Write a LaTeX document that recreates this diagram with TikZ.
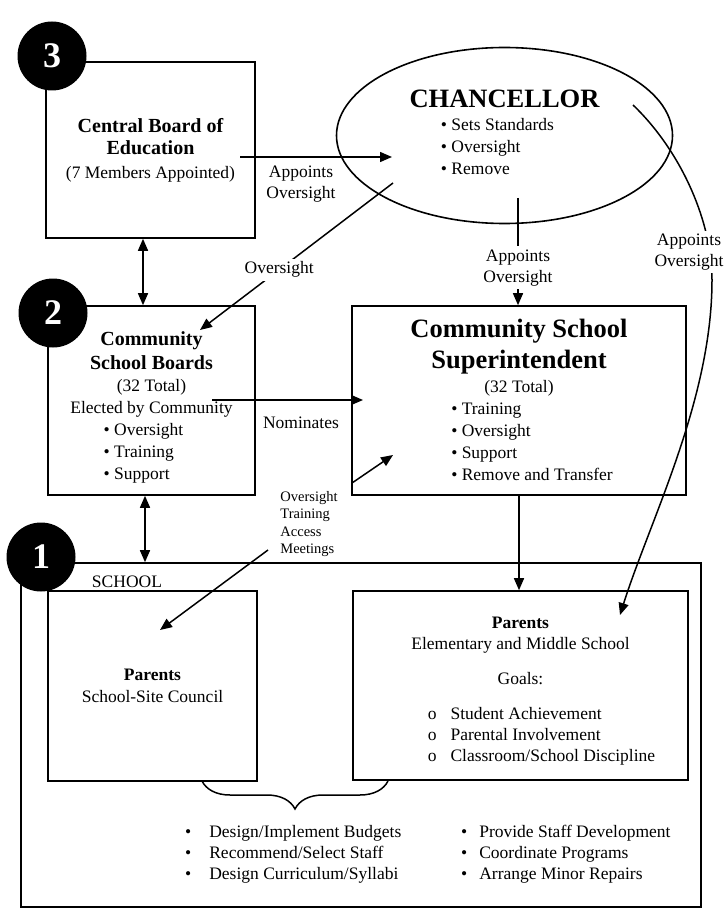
\documentclass[tikz,border=0pt]{standalone}
\usepackage{fontspec}
\setmainfont{Liberation Serif}
\usetikzlibrary{arrows.meta, positioning, calc, shapes.geometric, decorations.pathreplacing}
\newcommand{\txtsize}{\fontsize{17.5}{22}\selectfont}
\newcommand{\lblsize}{\fontsize{14.5}{17.5}\selectfont}
\newcommand{\headsize}{\fontsize{20}{22}\selectfont}
\newcommand{\bigsize}{\fontsize{26.5}{31}\selectfont}

\begin{document}
\begin{tikzpicture}[x=1pt, y=-1pt,
    box/.style={draw, line width=1.6pt, inner sep=0pt, align=center, font=\txtsize},
    numdot/.style={circle, fill=black, minimum size=69pt, inner sep=0pt, text=white,
                   font=\fontsize{36}{36}\selectfont\bfseries},
    arrow/.style={-{Triangle[length=12pt, width=10pt]}, line width=1.5pt},
    dblarrow/.style={{Triangle[length=12pt, width=10pt]}-{Triangle[length=12pt, width=10pt]}, line width=1.5pt},
    lbl/.style={font=\txtsize, align=center, fill=white, inner sep=3pt},
    bracket/.style={decorate, decoration={brace, mirror, amplitude=28pt}, line width=1.5pt},
]
\useasboundingbox (0,0) rectangle (726,917);

% Level 3: central board and chancellor
\node[box, minimum width=209pt, minimum height=176pt] (cbe) at (150.5,150)
    {{\headsize\bfseries Central Board of}\\{\headsize\bfseries Education}\\[2pt](7 Members Appointed)};
\node[draw, ellipse, line width=1.6pt, minimum width=336pt, minimum height=176pt,
      inner sep=0pt, align=center, font=\txtsize] (chan) at (504.5,135.5)
    {{\bigsize\bfseries CHANCELLOR}\\[1pt]\hspace*{-14pt}\begin{tabular}[t]{@{}l@{}}• Sets Standards\\• Oversight\\• Remove\end{tabular}};

% Level 2: boards and superintendent
\node[box, minimum width=207pt, minimum height=189pt] (csb) at (151.5,400.5)
    {\rule{0pt}{30pt}{\headsize\bfseries Community}\\[2pt]{\headsize\bfseries School Boards}\\(32 Total)\\Elected by Community\\\hspace*{-16pt}\begin{tabular}[t]{@{}l@{}}• Oversight\\• Training\\• Support\end{tabular}};
\node[box, minimum width=334pt, minimum height=189pt] (css) at (519,400.5)
    {\rule{0pt}{24pt}{\bigsize\bfseries Community School}\\[6pt]{\bigsize\bfseries Superintendent}\\[2pt](32 Total)\\\hspace*{26pt}\begin{tabular}[t]{@{}l@{}}• Training\\• Oversight\\• Support\\• Remove and Transfer\end{tabular}};

% Level 1: the school
\node[box, minimum width=680pt, minimum height=344pt] (school) at (361,735) {};
\node[font=\txtsize] (schoollbl) at (127,582) {SCHOOL};
\node[box, minimum width=209pt, minimum height=190pt] (ssc) at (152.5,686)
    {\textbf{Parents}\\School-Site Council};
\node[box, minimum width=335pt, minimum height=189pt] (ems) at (520.5,685.5)
    {\rule{0pt}{26pt}\textbf{Parents}\\[-1pt]Elementary and Middle School\\[13pt]Goals:\\[13pt]\hspace*{42pt}\begin{tabular}[t]{@{}l@{\hspace{14pt}}l@{}}o&Student Achievement\\[-1pt]o&Parental Involvement\\[-1pt]o&Classroom/School Discipline\end{tabular}};

% Shared duties under the brace
\node[font=\txtsize, inner sep=0pt, anchor=west] (dutiesl) at (185,854)
    {\begin{tabular}{@{}l@{\hspace{18pt}}l@{}}•&Design/Implement Budgets\\[-1pt]•&Recommend/Select Staff\\[-1pt]•&Design Curriculum/Syllabi\end{tabular}};
\node[font=\txtsize, inner sep=0pt, anchor=west] (dutiesr) at (461,854)
    {\begin{tabular}{@{}l@{\hspace{12pt}}l@{}}•&Provide Staff Development\\[-1pt]•&Coordinate Programs\\[-1pt]•&Arrange Minor Repairs\end{tabular}};
\coordinate (brl) at (202,781);
\coordinate (brr) at (388,781);
\draw[bracket] (brl) -- (brr);

% Anchor points for the connectors
\coordinate (cbeout) at (240,157);
\coordinate (chanin) at (392,157);
\coordinate (chanlow) at (393,183);
\coordinate (csbin) at (200,330);
\coordinate (nomstart) at (212,400);
\coordinate (nomend) at (363,400);
\coordinate (chanmid) at (518,198);
\coordinate (chanright) at (633,105);
\coordinate (emsin) at (620,615);
\coordinate (otcss) at (352,483);
\coordinate (cssin) at (393,455);
\coordinate (otssc) at (268,550);
\coordinate (sscin) at (160,630);

% Connectors
\draw[arrow] (cbeout) -- (chanin);
\node[font=\txtsize, align=center] (appt1) at (301,184) {Appoints\\[-1pt]Oversight};
\draw[arrow] (chanlow) -- node[lbl, pos=0.59] (ovs) {Oversight} (csbin);
\draw[dblarrow] ([xshift=-7.5pt]cbe.south) -- ([xshift=-7.5pt]cbe.south |- csb.north);
\draw[dblarrow] ([xshift=-6.5pt]csb.south) -- ([xshift=-6.5pt]csb.south |- school.north);
\draw[arrow] (nomstart) -- (nomend);
\node[font=\txtsize] (nom) at (301,423) {Nominates};
\draw[arrow] (chanmid) -- node[lbl, pos=0.65] (appt2) {Appoints\\[-1pt]Oversight} (chanmid |- css.north);
\draw[arrow] (chanright) .. controls (680,150) and (712,220) .. (712,280)
    .. controls (712,400) and (650,520) .. (emsin);
\node[lbl] (appt3) at (689,252) {Appoints\\[-1pt]Oversight};
\node[font=\lblsize, align=left] (otam) at (309,524) {Oversight\\Training\\Access\\Meetings};
\draw[arrow] (otcss) -- (cssin);
\draw[arrow] (otssc) -- (sscin);
\draw[arrow] (css.south) -- (css.south |- ems.north);

% Level markers
\node[numdot] (n3) at (52,56) {3};
\node[numdot] (n2) at (53,313) {2};
\node[numdot] (n1) at (41,557) {1};

\end{tikzpicture}
\end{document}
